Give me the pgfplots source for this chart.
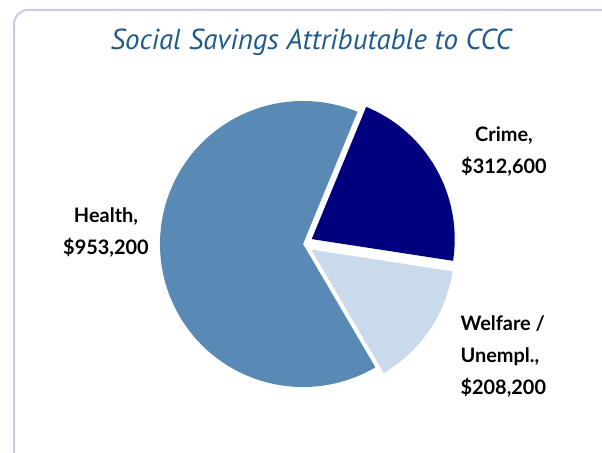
\documentclass[border=0pt]{standalone}
\usepackage{pgfplots}
\pgfplotsset{compat=1.18}
\usepackage{pgfplotstable}
\usepackage{fontspec}
\setmainfont{Lato}
\newfontfamily\titlefont{PT Sans}

\definecolor{healthblue}{HTML}{588AB5}
\definecolor{crimenavy}{HTML}{00007E}
\definecolor{welfarelight}{HTML}{C9DAEA}
\definecolor{titleblue}{HTML}{1F5A8A}
\definecolor{framegrey}{HTML}{C8CCE0}

% social savings, thousands of dollars
\pgfplotstableread{
slice   value
Crime   312.6
Welfare 208.2
Health  953.2
}\savings

\begin{document}
\begin{tikzpicture}
\pgfplotstablegetelem{0}{value}\of\savings \let\vC\pgfplotsretval
\pgfplotstablegetelem{1}{value}\of\savings \let\vW\pgfplotsretval
\pgfplotstablegetelem{2}{value}\of\savings \let\vH\pgfplotsretval
\pgfmathsetmacro\tot{\vC+\vW+\vH}
\pgfmathsetmacro\sC{67.6}
\pgfmathsetmacro\eC{\sC-\vC/\tot*360}
\pgfmathsetmacro\eW{\eC-\vW/\tot*360}
\pgfmathsetmacro\eH{\sC-360}
\pgfmathsetmacro\mC{(\sC+\eC)/2}
\pgfmathsetmacro\mW{(\eC+\eW)/2}
\def\R{143bp}
\begin{axis}[
    width=602bp, height=453bp, scale only axis,
    hide axis, clip=false,
    xmin=0, xmax=602, ymin=0, ymax=453,
]
% frame
\draw[framegrey, line width=2bp, rounded corners=14bp]
    (axis cs:14,443) rectangle (axis cs:620,-20);
% title
\node[anchor=base, font=\titlefont\itshape\fontsize{29}{34}\selectfont, text=titleblue]
    at (axis cs:311,403) {Social Savings Attributable to CCC};
% wedges
\fill[healthblue] (axis cs:303,209) -- +(\eW:\R) arc[start angle=\eW, end angle=\eH, radius=\R] -- cycle;
\fill[crimenavy, shift={(\mC:10bp)}] (axis cs:303,209) -- +(\sC:\R) arc[start angle=\sC, end angle=\eC, radius=\R] -- cycle;
\fill[welfarelight, shift={(\mW:10bp)}] (axis cs:303,209) -- +(\eC:\R) arc[start angle=\eC, end angle=\eW, radius=\R] -- cycle;
% labels (anchored at the baseline of the last line)
\node[anchor=base, align=center, font=\bfseries\fontsize{20}{32.5}\selectfont]
    at (axis cs:106,198) {Health,\\\$953,200};
\node[anchor=base, align=center, font=\bfseries\fontsize{20}{32.5}\selectfont]
    at (axis cs:504,279) {Crime,\\\$312,600};
\node[anchor=base west, align=left, font=\bfseries\fontsize{20}{32.5}\selectfont]
    at (axis cs:457,58) {Welfare /\\Unempl.,\\\$208,200};
\end{axis}
\pgfresetboundingbox
\path[use as bounding box] (0,0) rectangle (602bp,453bp);
\end{tikzpicture}
\end{document}
